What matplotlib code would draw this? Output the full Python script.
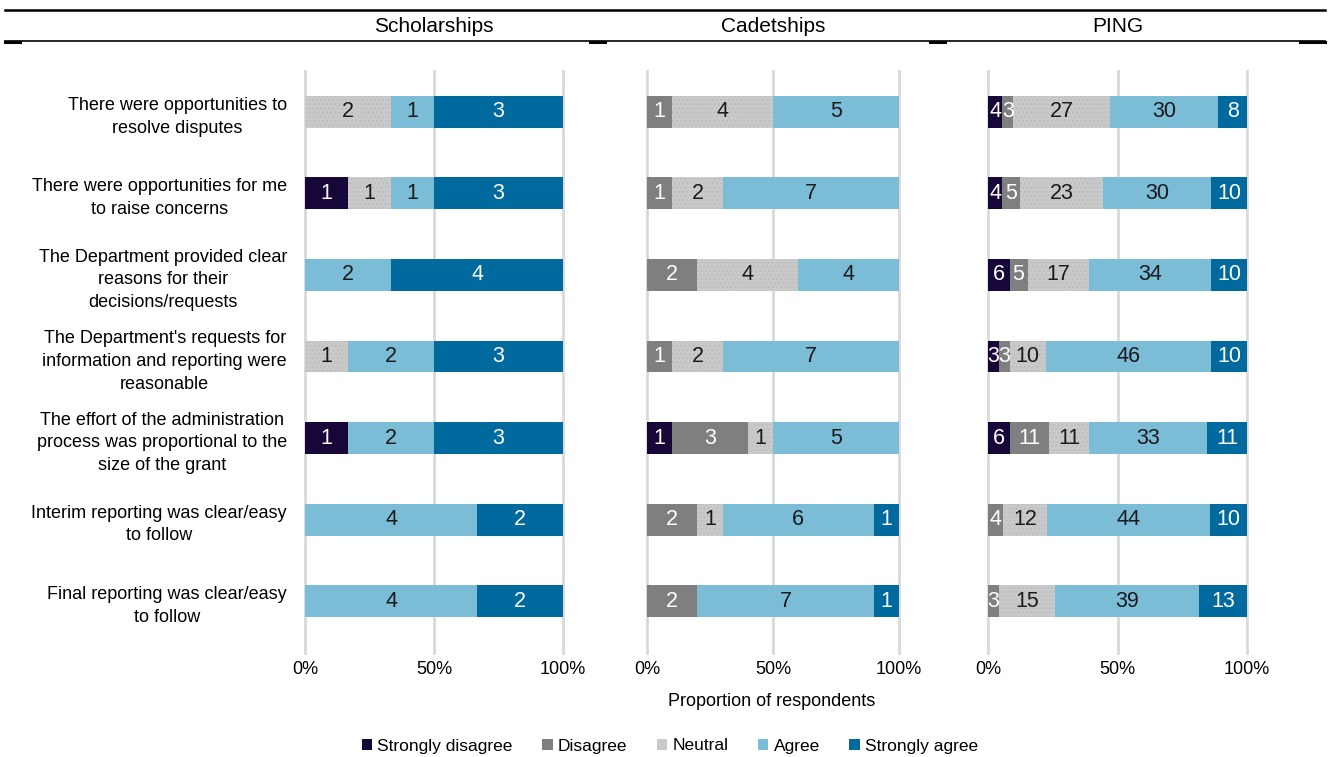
import matplotlib
matplotlib.use("Agg")
import matplotlib.pyplot as plt
from matplotlib.patches import Patch
from matplotlib.lines import Line2D
import numpy as np

plt.rcParams['font.family'] = ['Liberation Sans Narrow', 'Liberation Sans', 'DejaVu Sans']
plt.rcParams['hatch.linewidth'] = 0.6

questions = [
    "There were opportunities to\nresolve disputes",
    "There were opportunities for me\nto raise concerns",
    "The Department provided clear\nreasons for their\ndecisions/requests",
    "The Department's requests for\ninformation and reporting were\nreasonable",
    "The effort of the administration\nprocess was proportional to the\nsize of the grant",
    "Interim reporting was clear/easy\nto follow",
    "Final reporting was clear/easy\nto follow",
]
responses = ["Strongly disagree", "Disagree", "Neutral", "Agree", "Strongly agree"]
colors = ["#170638", "#7f7f7f", "#c9c9c9", "#7bbcd7", "#00699e"]
text_colors = ["white", "white", "#1a1a1a", "#1a1a1a", "white"]

programs = ["Scholarships", "Cadetships", "PING"]

# counts per question: SD, D, N, A, SA
scholarships = [
    [0, 0, 2, 1, 3],
    [1, 0, 1, 1, 3],
    [0, 0, 0, 2, 4],
    [0, 0, 1, 2, 3],
    [1, 0, 0, 2, 3],
    [0, 0, 0, 4, 2],
    [0, 0, 0, 4, 2],
]
cadetships = [
    [0, 1, 4, 5, 0],
    [0, 1, 2, 7, 0],
    [0, 2, 4, 4, 0],
    [0, 1, 2, 7, 0],
    [1, 3, 1, 5, 0],
    [0, 2, 1, 6, 1],
    [0, 2, 0, 7, 1],
]
ping = [
    [4, 3, 27, 30, 8],
    [4, 5, 23, 30, 10],
    [6, 5, 17, 34, 10],
    [3, 3, 10, 46, 10],
    [6, 11, 11, 33, 11],
    [0, 4, 12, 44, 10],
    [0, 3, 15, 39, 13],
]
data = [scholarships, cadetships, ping]

W, H = 1335, 757
fig = plt.figure(figsize=(W / 100, H / 100), dpi=100)

ax_lefts = [305, 647, 988]
ax_widths = [258, 252, 259]
ax_top, ax_bot = 71, 642

for k, (prog, counts) in enumerate(zip(programs, data)):
    ax = fig.add_axes([ax_lefts[k] / W, 1 - ax_bot / H, ax_widths[k] / W, (ax_bot - ax_top) / H])
    counts = np.array(counts, dtype=float)
    totals = counts.sum(axis=1)
    props = counts / totals[:, None]
    y = np.arange(len(questions))
    left = np.zeros(len(questions))
    for j in range(len(responses)):
        kw = dict(linewidth=0)
        if j == 2:
            kw = dict(hatch='....', edgecolor='#bababa', linewidth=0)
        ax.barh(y, props[:, j], left=left, height=0.39, color=colors[j], zorder=3, **kw)
        for i in range(len(questions)):
            if counts[i, j] > 0:
                ax.text(left[i] + props[i, j] / 2, y[i], "%d" % counts[i, j],
                        ha='center', va='center', color=text_colors[j], fontsize=15.5, zorder=4)
        left += props[:, j]
    ax.set_xlim(0, 1)
    ax.set_ylim(6.5, -0.5)
    ax.set_xticks([0, 0.5, 1])
    ax.set_xticklabels(["0%", "50%", "100%"], fontsize=13)
    ax.tick_params(axis='x', length=0, pad=14)
    ax.tick_params(axis='y', length=0)
    for xv in [0, 0.5, 1]:
        ax.axvline(xv, color='#d9d9d9', lw=2, zorder=1, ymin=-0.02, ymax=1, clip_on=False)
    for s in ax.spines.values():
        s.set_visible(False)
    if k == 0:
        ax.set_yticks(y)
        ax.set_yticklabels(questions, fontsize=13, multialignment='center', linespacing=1.45)
        ax.tick_params(axis='y', pad=13)
    else:
        ax.set_yticks([])
    ax.set_facecolor('none')
    fig.text((ax_lefts[k] + ax_widths[k] / 2) / W, 1 - 27 / H, prog,
             ha='center', va='center', fontsize=15)

# header rules
fig.add_artist(Line2D([5 / W, 1325 / W], [1 - 10 / H, 1 - 10 / H], color='black', lw=1.8))
fig.add_artist(Line2D([5 / W, 1325 / W], [1 - 41 / H, 1 - 41 / H], color='black', lw=1.2))
for x0, x1 in [(5, 20), (590, 605), (930, 945), (1300, 1325)]:
    fig.add_artist(Line2D([x0 / W, x1 / W], [1 - 42 / H, 1 - 42 / H], color='black', lw=2.2))

fig.text(772 / W, 1 - 701 / H, "Proportion of respondents", ha='center', va='center', fontsize=13)

handles = [Patch(facecolor=c, edgecolor='none') for c in colors]
fig.legend(handles, responses, loc='center', bbox_to_anchor=(670 / W, 1 - 746 / H), ncol=5,
           frameon=False, fontsize=12.5, handlelength=0.6, handleheight=0.6,
           handletextpad=0.3, columnspacing=1.7)

fig.savefig("out.png", dpi=100)
